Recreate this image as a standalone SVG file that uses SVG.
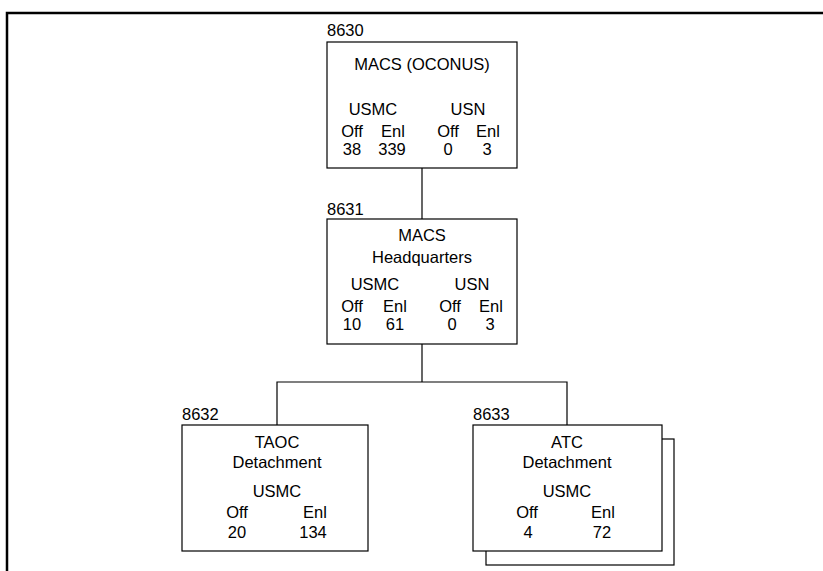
<svg xmlns="http://www.w3.org/2000/svg" width="823" height="571" viewBox="0 0 823 571">
<style>
text{font-family:"Liberation Sans",Arial,sans-serif;font-size:16.5px;fill:#000;text-anchor:middle}
.id{text-anchor:start}
.box{fill:#fff;stroke:#000;stroke-width:1.2}
.ln{fill:none;stroke:#000;stroke-width:1.2}
</style>
<rect width="823" height="571" fill="#fff"/>
<path d="M7 575 V13 H830" fill="none" stroke="#000" stroke-width="2.5"/>
<g id="connectors">
<path class="ln" d="M422 168 V219"/>
<path class="ln" d="M422 344 V382"/>
<path class="ln" d="M277 425 V382 H567 V425"/>
</g>
<g id="n8630">
<text class="id" x="327" y="36">8630</text>
<rect class="box" x="327" y="42" width="190" height="126"/>
<text x="422" y="70">MACS (OCONUS)</text>
<text x="373" y="115">USMC</text><text x="468" y="115">USN</text>
<text x="352" y="137">Off</text><text x="393" y="137">Enl</text><text x="448" y="137">Off</text><text x="488" y="137">Enl</text>
<text x="352" y="155">38</text><text x="392" y="155">339</text><text x="448" y="155">0</text><text x="487" y="155">3</text>
</g>
<g id="n8631">
<text class="id" x="327" y="215">8631</text>
<rect class="box" x="327" y="219" width="190" height="125"/>
<text x="422" y="241">MACS</text>
<text x="422" y="263">Headquarters</text>
<text x="375" y="290">USMC</text><text x="472" y="290">USN</text>
<text x="352" y="312">Off</text><text x="395" y="312">Enl</text><text x="450" y="312">Off</text><text x="491" y="312">Enl</text>
<text x="352" y="330">10</text><text x="395" y="330">61</text><text x="452" y="330">0</text><text x="490" y="330">3</text>
</g>
<g id="n8632">
<text class="id" x="182" y="420">8632</text>
<rect class="box" x="182" y="425" width="186" height="126"/>
<text x="277" y="448">TAOC</text>
<text x="277" y="468">Detachment</text>
<text x="277" y="497">USMC</text>
<text x="237" y="518">Off</text><text x="315" y="518">Enl</text>
<text x="237" y="538">20</text><text x="313" y="538">134</text>
</g>
<g id="n8633">
<text class="id" x="473" y="420">8633</text>
<rect class="box" x="486" y="439" width="188" height="126"/>
<rect class="box" x="473" y="425" width="189" height="126"/>
<text x="567" y="448">ATC</text>
<text x="567" y="468">Detachment</text>
<text x="567" y="497">USMC</text>
<text x="527" y="518">Off</text><text x="603" y="518">Enl</text>
<text x="528" y="538">4</text><text x="602" y="538">72</text>
</g>
</svg>
